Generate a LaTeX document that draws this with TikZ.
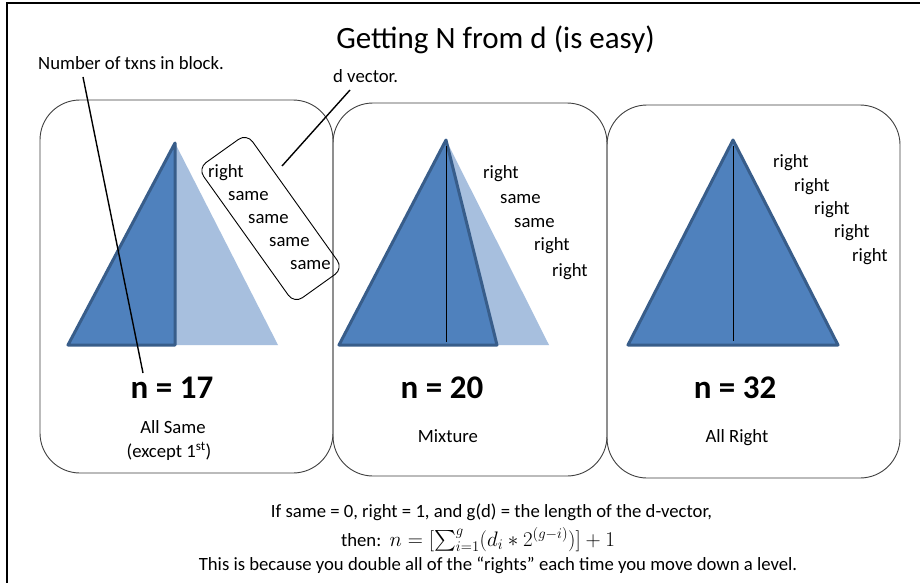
\RequirePackage{fix-cm}
\documentclass[tikz,border=0pt]{standalone}
\usepackage{exscale}
\usepackage{fontspec}
\setmainfont{Carlito}
\definecolor{tridark}{HTML}{4F81BD}
\definecolor{triedge}{HTML}{385D8A}
\definecolor{trilight}{HTML}{A7BFDE}
\definecolor{boxline}{HTML}{404040}
\begin{document}
\begin{tikzpicture}[x=1pt,y=1pt,
  sm/.style={font=\fontsize{18.7}{22}\selectfont, inner sep=0pt, anchor=base west},
  smc/.style={font=\fontsize{18.7}{22}\selectfont, inner sep=0pt, anchor=base},
  nlab/.style={font=\fontsize{33}{38}\selectfont\bfseries, inner sep=0pt, anchor=base},
  panel/.style={draw=boxline, line width=0.9pt, rounded corners=40pt},
  darktri/.style={fill=tridark, draw=triedge, line width=3pt, line join=round},
  lighttri/.style={fill=trilight},
  midline/.style={draw=black, line width=0.9pt},
  leader/.style={draw=black, line width=1.4pt}]
\useasboundingbox (0,0) rectangle (920,-583);
\clip (0,0) rectangle (920,-583);
\fill[white] (0,0) rectangle (920,-583);
\draw[line width=2pt] (7,-3) rectangle (935,-600);

% panels
\draw[panel] (40,-100) rectangle (333,-473);
\draw[panel] (333,-103) rectangle (607,-476);
\draw[panel] (607,-105) rectangle (900,-478);

% title
\node[font=\fontsize{31}{36}\selectfont, inner sep=0pt, anchor=base] (title) at (495.5,-49) {Getting N from d (is easy)};

% panel 1 triangles
\fill[lighttri] (175,-143) -- (278,-345) -- (175,-345) -- cycle;
\draw[darktri] (175,-143) -- (175,-345) -- (68,-345) -- cycle;

% panel 2 triangles
\fill[lighttri] (446,-140) -- (549,-345) -- (446,-345) -- cycle;
\draw[darktri] (446,-140) -- (497,-345) -- (339,-345) -- cycle;
\draw[midline] (446,-146) -- (446,-342);

% panel 3 triangle
\draw[darktri] (733,-140) -- (838,-345) -- (628,-345) -- cycle;
\draw[midline] (733,-146) -- (733,-341);

% d vector box
\node[draw=black, line width=0.9pt, rounded corners=10pt, minimum width=166pt, minimum height=60pt, rotate=-54.5] (dbox) at (270.5,-218.5) {};
\node[sm] (d1) at (208,-177) {right};
\node[sm] (d2) at (228,-200) {same};
\node[sm] (d3) at (248,-223) {same};
\node[sm] (d4) at (269,-246.5) {same};
\node[sm] (d5) at (290,-269.5) {same};

% panel 2 words
\node[sm] (m1) at (483,-178) {right};
\node[sm] (m2) at (500,-203) {same};
\node[sm] (m3) at (514,-227) {same};
\node[sm] (m4) at (534,-250.5) {right};
\node[sm] (m5) at (552,-276) {right};

% panel 3 words
\node[sm] (r1) at (773,-167) {right};
\node[sm] (r2) at (794,-191) {right};
\node[sm] (r3) at (814,-214) {right};
\node[sm] (r4) at (834,-237) {right};
\node[sm] (r5) at (852,-261) {right};

% n labels
\node[nlab] (n1) at (172,-398) {n = 17};
\node[nlab] (n2) at (442,-398) {n = 20};
\node[nlab] (n3) at (735,-398) {n = 32};

% captions
\node[smc] (c1) at (173,-433) {All Same};
\node[smc] (c1b) at (169,-457.5) {(except 1\textsuperscript{st})};
\node[smc] (c2) at (448,-442) {Mixture};
\node[smc] (c3) at (737,-442) {All Right};

% annotations
\node[sm] (anum) at (38,-70) {Number of txns in block.};
\node[sm] (adv) at (333,-83) {d vector.};
\coordinate (l1a) at (83,-77);
\coordinate (l1b) at (143,-373);
\coordinate (l2a) at (350,-90);
\coordinate (l2b) at (282,-166);
\draw[leader] (l1a) -- (l1b);
\draw[leader] (l2a) -- (l2b);

% bottom text
\node[smc] (b1) at (491.5,-517) {If same = 0, right = 1, and g(d) = the length of the d-vector,};
\node[smc] (b2) at (478,-546) {then:\ \ {\fontsize{21}{24}\selectfont$n=[\sum_{i=1}^{g}(d_i*2^{(g-i)})]+1$}};
\node[smc] (b3) at (498,-570) {This is because you double all of the “rights” each time you move down a level.};
\end{tikzpicture}
\end{document}
